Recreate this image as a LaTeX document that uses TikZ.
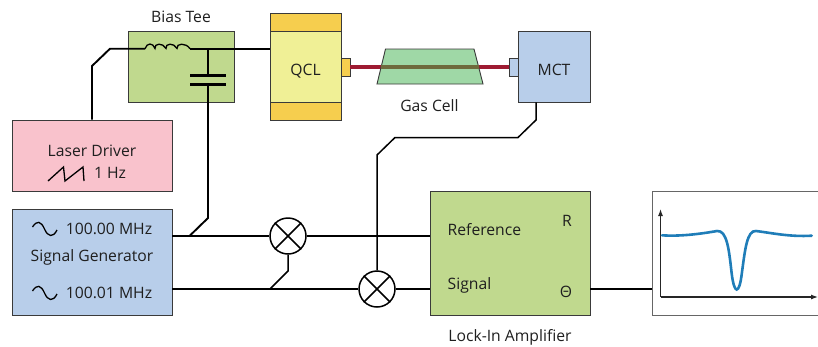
\documentclass[tikz,border=0pt]{standalone}
\usepackage{fontspec}
\setmainfont{Open Sans}
\usetikzlibrary{arrows.meta,calc}
\definecolor{boxgreen}{HTML}{C0D98E}
\definecolor{boxpink}{HTML}{F9C2CC}
\definecolor{boxblue}{HTML}{B8CEEA}
\definecolor{qclyellow}{HTML}{F0F096}
\definecolor{qclorange}{HTML}{F6CE4E}
\definecolor{cellgreen}{HTML}{9FD8A6}
\definecolor{beamred}{HTML}{9E1B32}
\definecolor{beamdark}{HTML}{6E6A3C}
\definecolor{curveblue}{HTML}{1F7DB8}
\definecolor{edgegrey}{HTML}{3A3A3A}
\tikzset{
  x=1pt,y=-1pt,
  every node/.style={font=\fontsize{15.7}{17}\selectfont,text=black!88},
  blockbox/.style={draw=edgegrey,line width=0.9pt,minimum width=#1,inner sep=0pt},
  wire/.style={line width=1.9pt,black,line join=miter},
  thinwire/.style={line width=1.5pt,black},
  mixer/.style={circle,draw=black,line width=1.5pt,fill=white,minimum size=36pt,inner sep=0pt},
  label/.style={inner sep=0pt},
  glyph/.style={line width=1.3pt,black}
}
\begin{document}
\begin{tikzpicture}
\useasboundingbox (0,0) rectangle (818,346);
% boxes
\node[blockbox=106pt,minimum height=71pt,fill=boxgreen] (tee) at (181,66.5) {};
\node[blockbox=71pt,minimum height=18pt,fill=qclorange] (qcltop) at (305.5,22) {};
\node[blockbox=71pt,minimum height=18pt,fill=qclorange] (qclbot) at (305.5,111) {};
\node[blockbox=71pt,minimum height=71pt,fill=qclyellow] (qcl) at (305.5,66.5) {};
\node[blockbox=9pt,minimum height=18pt,fill=qclorange] (qclport) at (345.5,67) {};
\node[blockbox=72pt,minimum height=71pt,fill=boxblue] (mct) at (554,66.5) {};
\node[blockbox=9pt,minimum height=18pt,fill=boxblue] (mctport) at (513.5,67) {};
\node[blockbox=160pt,minimum height=71pt,fill=boxpink] (laser) at (92,155.5) {};
\node[blockbox=160pt,minimum height=106pt,fill=boxblue] (gen) at (92,262) {};
\node[blockbox=160pt,minimum height=124pt,fill=boxgreen] (lockin) at (510,253) {};
\coordinate (plotin) at (652,289);
% beam and cell
\draw[line width=4pt,beamred] (qclport.east |- 0,66.5) -- (mctport.west |- 0,66.5);
\draw[draw=edgegrey,line width=0.9pt,fill=cellgreen] (385.5,49) -- (474,49) -- (483,84) -- (377,84) -- cycle;
\draw[line width=4pt,beamdark] (381,66.5) -- (479,66.5);
% plot frame
\draw[line width=1pt,black!60] (818,191) -- (652,191) -- (652,315) -- (818,315);
\coordinate (origin) at (660.5,297);
\draw[line width=1.2pt,black!85,-{Latex[length=7pt,width=5pt]}] (origin) -- (660.5,209);
\draw[line width=1.2pt,black!85,-{Latex[length=7pt,width=5pt]}] (origin) -- (818,297);
\draw[line width=2.6pt,curveblue,line cap=round] (662,235.3) .. controls (680,236.5) and (700,234) .. (717,231) .. controls (727,230) and (729,250) .. (731.5,272) .. controls (733,285) and (735,289.5) .. (736.7,289.5) .. controls (738.5,289.5) and (740.5,285) .. (742,272) .. controls (745,250) and (747,230) .. (756,231) .. controls (772,233) and (790,237) .. (811.7,235.7);
% mixers
\node[mixer] (mixa) at (288,236) {};
\node[mixer] (mixb) at (377,289) {};
\foreach \m in {mixa,mixb}{
  \draw[thinwire] (\m.45) -- (\m.225);
  \draw[thinwire] (\m.135) -- (\m.315);
}
% inductor
\coordinate (indl) at (145,48.7);
\coordinate (indr) at (190,48.7);
\draw[line width=1.3pt,black] (indl) .. controls (147,42.5) and (153,42.5) .. (155,48.5)
  .. controls (154,43) and (163,42.5) .. (166,48.5)
  .. controls (165,43) and (174,42.5) .. (177,48.5)
  .. controls (176,43) and (186,42.5) .. (indr);
% capacitor
\coordinate (capt) at (208,75.5);
\coordinate (capb) at (208,84.5);
\draw[line width=3pt,black] (190,75.5) -- (226,75.5);
\draw[line width=3pt,black] (190,84.5) -- (226,84.5);
% wires
\coordinate (la) at (92,66);
\coordinate (lb) at (110,48.7);
\draw[wire] (laser.north) -- (la) -- (lb) -- (indl);
\draw[wire] (indr) -- (indr -| qcl.west);
\draw[wire] (208,48.7) -- (capt);
\coordinate (ca) at (208,218);
\coordinate (cb) at (190,235.5);
\draw[wire] (capb) -- (ca) -- (cb);
\coordinate (genrefout) at (gen.east |- mixa.west);
\coordinate (gensigout) at (gen.east |- mixb.west);
\draw[thinwire] (genrefout) -- (mixa.west);
\draw[wire] (gensigout) -- (mixb.west);
\coordinate (ma) at (288,271);
\coordinate (mb) at (270,289);
\draw[thinwire] (mixa.south) -- (ma) -- (mb);
\draw[thinwire] (mixa.east) -- (mixa.east -| lockin.west);
\draw[thinwire] (mixb.east) -- (mixb.east -| lockin.west);
\coordinate (da) at (536,120);
\coordinate (db) at (518,137.5);
\coordinate (dc) at (395,137.5);
\coordinate (dd) at (377,155);
\draw[thinwire] (mct.south -| da) -- (da) -- (db) -- (dc) -- (dd) -- (mixb.north);
\draw[wire] (lockin.east |- plotin) -- (plotin);
% laser sawtooth
\draw[glyph,line join=miter] (48,181) -- (63.5,167) -- (65,181) -- (83,167) -- (84,181);
% sine glyphs
\foreach \yc in {229,293}{
  \draw[glyph] (32.5,\yc-2) .. controls (37,\yc-9) and (41,\yc-8) .. (44.5,\yc) .. controls (48,\yc+8) and (53,\yc+9) .. (57,\yc+1);
}
% text
\node[label] (ttee) at (181,17) {Bias Tee};
\node[label] (tqcl) at (305.5,71.5) {QCL};
\node[label] (tmct) at (554,70) {MCT};
\node[label] (tcell) at (429.5,105.5) {Gas Cell};
\node[label] (tlaser) at (92,150.5) {Laser Driver};
\node[label] (thz) at (110,173) {1 Hz};
\node[label] (tmhza) at (109,229) {100.00 MHz};
\node[label] (tgen) at (92,257) {Signal Generator};
\node[label] (tmhzb) at (109,293) {100.01 MHz};
\node[label,anchor=west] (tref) at (447.5,230) {Reference};
\node[label,anchor=west] (tsig) at (447.5,285) {Signal};
\node[label] (tr) at (567,221) {R};
\node[label] (tth) at (566,292) {Θ};
\node[label] (tlock) at (510,337) {Lock-In Amplifier};
\end{tikzpicture}
\end{document}
